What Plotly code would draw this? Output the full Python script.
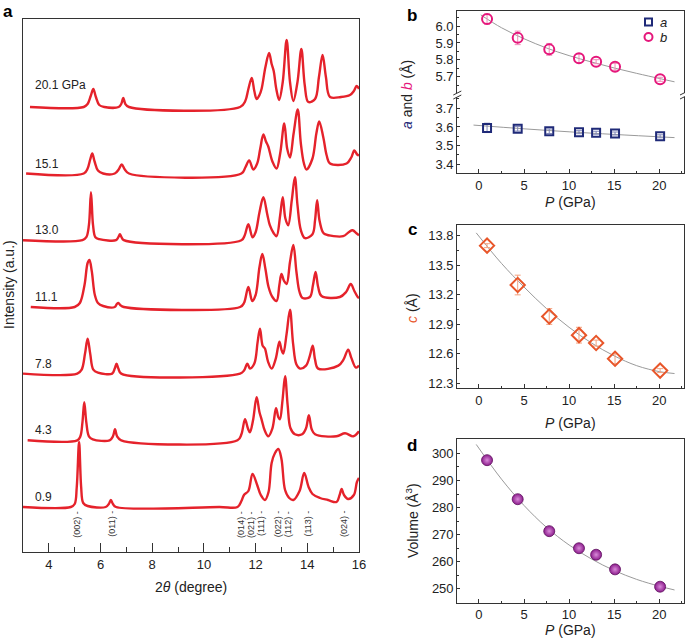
import plotly.graph_objects as go

# ---------------- panel a : XRD patterns ----------------
pressures = ['0.9', '4.3', '7.8', '11.1', '13.0', '15.1', '20.1']
offsets = [45, 111.7, 178.4, 245, 311.8, 378.5, 445]

tth_09 = [3.0, 4.85, 5.0, 5.08, 5.17, 5.25, 5.33, 5.5, 6.2, 6.32, 6.40, 6.48, 6.6, 10.6, 11.3, 11.45, 11.55,
          11.72, 11.88, 12.06, 12.2, 12.36, 12.5, 12.62, 12.75, 12.88, 13.0, 13.14, 13.3, 13.46, 13.7, 13.88,
          14.05, 14.2, 14.49, 14.8, 15.13, 15.25, 15.33, 15.42, 15.58, 15.8, 15.92, 16.0]
int_09 = [0, 0, 3, 20, 65, 20, 4, 1, 0, 3, 7, 3, 0, 0, 0, 6, 12,
          16, 33, 22, 12, 7, 15, 44, 54, 58, 48, 17, 9, 7, 16, 34,
          20, 13, 9, 7, 5, 12, 18, 12, 8, 12, 25, 29]

tth_43 = [3.18, 5.1, 5.22, 5.30, 5.37, 5.45, 5.55, 5.7, 6.35, 6.48, 6.56, 6.64, 6.8, 11.3, 11.45, 11.59, 11.7,
          11.78, 11.9, 12.04, 12.15, 12.23, 12.35, 12.49, 12.65, 12.79, 12.88, 12.94, 13.04, 13.14, 13.24, 13.35,
          13.52, 13.8, 13.95, 14.06, 14.17, 14.30, 15.13, 15.46, 15.78, 16.0]
int_43 = [0, 0, 4, 18, 38, 18, 4, 1, 0, 4, 11, 4, 0, 0, 6, 21, 12,
          8, 20, 43, 28, 21, 10, 4, 12, 32, 23, 21, 40, 64, 35, 12,
          6, 6, 12, 25, 11, 6, 4, 7, 4, 9]

tth_78 = [3.0, 5.1, 5.27, 5.40, 5.50, 5.60, 5.72, 5.9, 6.45, 6.55, 6.62, 6.69, 6.8, 11.4, 11.55, 11.68, 11.78,
          11.95, 12.08, 12.17, 12.27, 12.36, 12.48, 12.62, 12.78, 12.92, 13.0, 13.07, 13.2, 13.33, 13.45, 13.58,
          13.72, 13.95, 14.1, 14.21, 14.3, 14.42, 15.2, 15.4, 15.58, 15.7, 15.88, 16.0]
int_78 = [0, 0, 4, 20, 35, 20, 4, 1, 0, 5, 10, 5, 0, 0, 3, 10, 5,
          10, 32, 45, 28, 25, 12, 5, 15, 32, 24, 20, 40, 64, 30, 9,
          5, 8, 18, 28, 14, 5, 8, 14, 24, 16, 6, 8]

tth_111 = [3.3, 5.0, 5.2, 5.38, 5.50, 5.57, 5.66, 5.78, 5.9, 6.1, 6.55, 6.63, 6.69, 6.76, 6.9, 11.4, 11.55,
           11.72, 11.87, 12.0, 12.15, 12.26, 12.38, 12.5, 12.65, 12.81, 12.92, 13.0, 13.1, 13.2, 13.33, 13.46,
           13.58, 13.7, 13.82, 14.1, 14.22, 14.32, 14.42, 14.55, 15.26, 15.5, 15.68, 15.82, 15.95, 16.0]
int_111 = [0, 0, 4, 22, 44, 47, 36, 12, 4, 1, 0, 3, 4, 2, 0, 0, 4,
           20, 6, 12, 40, 53, 38, 20, 10, 6, 22, 33, 26, 23, 45, 62,
           35, 15, 9, 10, 22, 35, 20, 11, 10, 15, 23, 16, 10, 9]

tth_130 = [3.0, 5.3, 5.45, 5.55, 5.63, 5.71, 5.80, 5.95, 6.6, 6.69, 6.75, 6.81, 6.9, 11.45, 11.58, 11.72, 11.88,
           12.0, 12.15, 12.30, 12.45, 12.55, 12.7, 12.81, 12.95, 13.05, 13.15, 13.26, 13.4, 13.52, 13.62, 13.75,
           13.91, 14.2, 14.3, 14.38, 14.47, 14.6, 14.68, 15.39, 15.6, 15.75, 15.9, 16.0]
int_130 = [0, 0, 3, 15, 48, 15, 3, 1, 0, 3, 6, 3, 0, 0, 5, 16, 3,
           8, 28, 43, 26, 15, 7, 4, 25, 43, 22, 15, 40, 63, 35, 10,
           2, 6, 20, 40, 20, 8, 6, 4, 8, 10, 7, 5]

tth_151 = [3.12, 5.35, 5.5, 5.6, 5.68, 5.77, 5.9, 6.1, 6.55, 6.7, 6.82, 6.94, 7.1, 11.45, 11.6, 11.75, 11.91,
           12.06, 12.18, 12.30, 12.4, 12.49, 12.65, 12.81, 12.95, 13.11, 13.22, 13.33, 13.47, 13.63, 13.75, 13.87,
           13.97, 14.2, 14.35, 14.46, 14.62, 14.75, 14.88, 15.52, 15.7, 15.82, 15.93, 16.0]
int_151 = [0, 0, 5, 14, 20, 12, 3, 0, 0, 4, 9, 4, 0, 0, 6, 13, 4,
           10, 25, 39, 32, 27, 12, 5, 20, 50, 25, 16, 40, 64, 30, 10,
           4, 15, 40, 52, 36, 18, 10, 10, 16, 23, 19, 18]

tth_201 = [3.27, 5.35, 5.5, 5.62, 5.72, 5.82, 5.95, 6.15, 6.7, 6.8, 6.88, 6.96, 7.1, 11.4, 11.6, 11.72, 11.85,
           11.95, 12.04, 12.15, 12.23, 12.38, 12.52, 12.62, 12.7, 12.8, 12.91, 13.05, 13.2, 13.33, 13.46, 13.62,
           13.77, 13.9, 14.04, 14.3, 14.45, 14.59, 14.72, 14.88, 15.3, 15.65, 15.8, 15.91, 16.0]
int_201 = [0, 0, 3, 11, 18, 10, 2, 0, 0, 3, 9, 3, 0, 0, 6, 18, 29,
           16, 8, 12, 18, 40, 54, 43, 36, 18, 7, 25, 67, 25, 6, 25,
           58, 22, 5, 8, 30, 52, 30, 10, 10, 12, 16, 21, 18]

patterns = [(tth_09, int_09), (tth_43, int_43), (tth_78, int_78), (tth_111, int_111),
            (tth_130, int_130), (tth_151, int_151), (tth_201, int_201)]

hkl_labels = ['(002)', '(011)', '(014)', '(021)', '(111)', '(022)', '(112)', '(113)', '(024)']
hkl_pos = [5.08, 6.43, 11.43, 11.82, 12.21, 12.88, 13.26, 14.01, 15.42]

# ---------------- panels b-d : lattice vs pressure ----------------
P = [0.9, 4.3, 7.8, 11.1, 13.0, 15.1, 20.1]
a_val = [3.595, 3.590, 3.577, 3.572, 3.569, 3.565, 3.550]
a_err = [0.025, 0.012, 0.012, 0.008, 0.008, 0.008, 0.008]
b_val = [6.041, 5.930, 5.862, 5.809, 5.789, 5.759, 5.685]
b_err = [0.03, 0.04, 0.035, 0.025, 0.012, 0.02, 0.012]
c_val = [13.70, 13.30, 12.98, 12.79, 12.71, 12.55, 12.43]
c_err = [0.02, 0.10, 0.08, 0.08, 0.03, 0.05, 0.02]
vol = [297.5, 283.1, 271.3, 265.0, 262.6, 257.2, 250.8]

fit_p_a = [-0.6, 5, 10, 15, 21.7]
fit_a = [3.610, 3.590, 3.574, 3.560, 3.543]
fit_p_b = [0.2, 2.5, 5, 7.5, 10, 12.5, 15, 17.5, 20, 21.7]
fit_b = [6.066, 5.99, 5.925, 5.87, 5.825, 5.787, 5.752, 5.72, 5.69, 5.67]
fit_p_c = [-0.3, 2.5, 5, 7.5, 10, 12.5, 15, 17.5, 20, 21.7]
fit_c = [13.83, 13.52, 13.28, 13.06, 12.87, 12.71, 12.58, 12.48, 12.42, 12.40]
fit_p_v = [-0.3, 2.5, 5, 7.5, 10, 12.5, 15, 17.5, 20, 21.7]
fit_v = [303.3, 290.5, 280.8, 272.7, 266.2, 261.0, 256.8, 253.5, 251.0, 249.6]

FONT = 'Liberation Sans, Arial, sans-serif'
INK = '#222222'
RED = '#e5222b'
NAVY = '#1f2a78'
PINK = '#e5177b'
ORANGE = '#e8562a'
PURPLE = '#8c1c8c'
GREY = '#9a9a9a'

W, H = 685, 640


def px(x):
    return x / W


def py(y):
    return 1 - y / H


fig = go.Figure()

# panel a traces
for (tth, inten), off in zip(patterns, offsets):
    fig.add_trace(go.Scatter(x=tth, y=[v + off for v in inten], mode='lines',
                             line=dict(color=RED, width=2.4, shape='spline', smoothing=1.0),
                             xaxis='x', yaxis='y', hoverinfo='skip'))

# panel b traces
fig.add_trace(go.Scatter(x=fit_p_b, y=fit_b, mode='lines', line=dict(color=GREY, width=1, shape='spline'),
                         xaxis='x3', yaxis='y3'))
fig.add_trace(go.Scatter(x=fit_p_a, y=fit_a, mode='lines', line=dict(color=GREY, width=1, shape='spline'),
                         xaxis='x2', yaxis='y2'))
fig.add_trace(go.Scatter(x=P, y=a_val, mode='markers', name='a',
                         marker=dict(symbol='square-open', size=8, color=NAVY, line=dict(width=2)),
                         error_y=dict(type='data', array=a_err, color='#7f86b8', thickness=1, width=3),
                         xaxis='x2', yaxis='y2'))
fig.add_trace(go.Scatter(x=P, y=b_val, mode='markers', name='b',
                         marker=dict(symbol='circle-open', size=10, color=PINK, line=dict(width=2)),
                         error_y=dict(type='data', array=b_err, color='#f08ab8', thickness=1, width=3),
                         xaxis='x3', yaxis='y3'))

# panel c traces
fig.add_trace(go.Scatter(x=fit_p_c, y=fit_c, mode='lines', line=dict(color=GREY, width=1, shape='spline'),
                         xaxis='x4', yaxis='y4'))
fig.add_trace(go.Scatter(x=P, y=c_val, mode='markers',
                         marker=dict(symbol='diamond-open', size=11, color=ORANGE, line=dict(width=2)),
                         error_y=dict(type='data', array=c_err, color='#f3a27f', thickness=1, width=3),
                         xaxis='x4', yaxis='y4'))

# panel d traces
fig.add_trace(go.Scatter(x=fit_p_v, y=fit_v, mode='lines', line=dict(color=GREY, width=1, shape='spline'),
                         xaxis='x5', yaxis='y5'))
fig.add_trace(go.Scatter(x=P, y=vol, mode='markers',
                         marker=dict(symbol='circle', size=11, color=PURPLE,
                                     gradient=dict(type='radial', color='#d98ad9'),
                                     line=dict(color='#5e0f5e', width=0.8)),
                         xaxis='x5', yaxis='y5'))

line_style = dict(showline=True, linecolor='#333333', linewidth=1.2, showgrid=False, zeroline=False,
                  automargin=False)
tickfont = dict(family=FONT, size=13, color=INK)

xr = [-2.4, 22.75]
dom_x_right = [px(457.3), px(684)]
px_axis = dict(range=xr, tickvals=[0, 5, 10, 15, 20], ticks='inside', ticklen=4, tickcolor='#333',
               minor=dict(dtick=2.5, tick0=0, ticks='inside', ticklen=2, tickcolor='#333'),
               tickfont=tickfont, domain=dom_x_right, **line_style)
py_axis = dict(ticks='inside', ticklen=3, tickcolor='#333', tickfont=tickfont, **line_style)

fig.update_layout(
    width=W, height=H, margin=dict(l=0, r=0, t=0, b=0, autoexpand=False),
    paper_bgcolor='white', plot_bgcolor='white', showlegend=False,
    font=dict(family=FONT, color=INK),
    xaxis=dict(domain=[px(23), px(359)], range=[3, 16], tickvals=[4, 6, 8, 10, 12, 14, 16],
               ticks='inside', ticklen=9, tickcolor='#333', tickfont=tickfont, mirror=True,
               minor=dict(dtick=1, tick0=3, ticks='inside', ticklen=5, tickcolor='#333'),
               anchor='y', **line_style),
    yaxis=dict(domain=[py(552), py(19)], range=[0, 533], showticklabels=False, ticks='',
               mirror=True, anchor='x', **line_style),
    # panel b: lower (a) and upper (b) part with a broken axis
    xaxis2=dict(anchor='y2', **px_axis),
    yaxis2=dict(domain=[py(173.3), py(95)], range=[3.352, 3.771], tickvals=[3.4, 3.5, 3.6, 3.7],
                tickformat='.1f', mirror=True, anchor='x2',
                minor=dict(dtick=0.05, ticks='inside', ticklen=2, tickcolor='#333'), **py_axis),
    xaxis3=dict(anchor='y3', matches='x2', side='top', showticklabels=False, ticks='',
                domain=dom_x_right, range=xr, **line_style),
    yaxis3=dict(domain=[py(95), py(11)], range=[5.592, 6.089], tickvals=[5.7, 5.8, 5.9, 6.0],
                tickformat='.1f', mirror=True, anchor='x3',
                minor=dict(dtick=0.05, ticks='inside', ticklen=2, tickcolor='#333'), **py_axis),
    # panel c
    xaxis4=dict(anchor='y4', mirror=True, **px_axis),
    yaxis4=dict(domain=[py(388.3), py(225)], range=[12.25, 13.91],
                tickvals=[12.3, 12.6, 12.9, 13.2, 13.5, 13.8], tickformat='.1f', mirror=True, anchor='x4',
                minor=dict(dtick=0.15, tick0=12.3, ticks='inside', ticklen=2, tickcolor='#333'), **py_axis),
    # panel d
    xaxis5=dict(anchor='y5', mirror=True, **px_axis),
    yaxis5=dict(domain=[py(602.7), py(439.3)], range=[244.9, 305.2],
                tickvals=[250, 260, 270, 280, 290, 300], mirror=True, anchor='x5',
                minor=dict(dtick=5, ticks='inside', ticklen=2, tickcolor='#333'), **py_axis),
)

ann = []
# pressure labels in panel a
for i, (lab, off) in enumerate(zip(pressures, offsets)):
    text = lab + ' GPa' if i == len(pressures) - 1 else lab
    dy = 22 if i == len(pressures) - 1 else 10
    ann.append(dict(x=3.4, y=off + dy, xref='x', yref='y', text=text, showarrow=False,
                    xanchor='left', yanchor='middle', font=dict(family=FONT, size=12, color=INK)))
# hkl labels
for lab, pos in zip(hkl_labels, hkl_pos):
    ann.append(dict(x=pos, y=28, xref='x', yref='y', text=lab + ' -', textangle=-90, showarrow=False,
                    xanchor='center', yanchor='middle', font=dict(family=FONT, size=9, color='#333')))


def note(x, y, text, size=14, angle=0, color=INK, anchor='center'):
    return dict(x=px(x), y=py(y), xref='paper', yref='paper', text=text, textangle=angle,
                showarrow=False, xanchor=anchor, yanchor='middle',
                font=dict(family=FONT, size=size, color=color))


ann += [
    note(191, 587, '2<i>θ</i> (degree)'),
    note(9, 285, 'Intensity (a.u.)', angle=-90),
    note(407, 95, "<span style='color:%s'><i>a</i></span> and <span style='color:%s'><i>b</i></span> (Å)"
         % (NAVY, PINK), angle=-90),
    note(412, 308, "<span style='color:%s'><i>c</i></span> (Å)" % ORANGE, angle=-90),
    note(412, 521, 'Volume (Å<sup>3</sup>)', angle=-90),
    note(570, 202, '<i>P</i> (GPa)'),
    note(570, 423, '<i>P</i> (GPa)'),
    note(570, 630, '<i>P</i> (GPa)'),
    note(8, 11, '<b>a</b>', size=17, color='black'),
    note(412, 15, '<b>b</b>', size=17, color='black'),
    note(412, 229, '<b>c</b>', size=17, color='black'),
    note(412, 445, '<b>d</b>', size=17, color='black'),
    # legend texts for panel b
    note(658, 22, '<i>a</i>', size=13, anchor='left'),
    note(658, 37, '<i>b</i>', size=13, anchor='left'),
]
fig.update_layout(annotations=ann)

shapes = [
    # legend symbols for panel b
    dict(type='rect', xref='paper', yref='paper', x0=px(645), x1=px(652), y0=py(25.5), y1=py(18.5),
         line=dict(color=NAVY, width=2)),
    dict(type='circle', xref='paper', yref='paper', x0=px(644.5), x1=px(652.5), y0=py(41), y1=py(33),
         line=dict(color=PINK, width=2)),
]
# axis-break marks on panel b
for xb in (457.3, 684):
    shapes.append(dict(type='rect', xref='paper', yref='paper', x0=px(xb - 3), x1=px(xb + 3),
                       y0=py(97), y1=py(93), line=dict(width=0), fillcolor='white', layer='above'))
    for dy in (-2, 2):
        shapes.append(dict(type='line', xref='paper', yref='paper', x0=px(xb - 4), x1=px(xb + 4),
                           y0=py(95 + dy + 2), y1=py(95 + dy - 2), line=dict(color='#333', width=1)))
fig.update_layout(shapes=shapes)

# drop the browser's default page margin so the figure sits at the window's corner
fig.write_html('out.html', config={'displayModeBar': False},
               post_script="document.body.style.margin='0px';")
